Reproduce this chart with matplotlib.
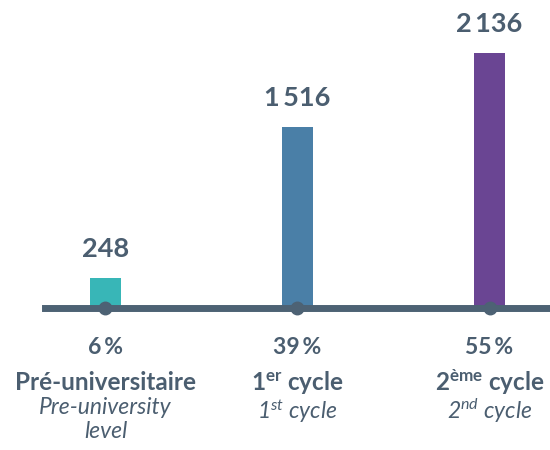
import numpy as np
import matplotlib.pyplot as plt
import matplotlib.transforms as mtransforms

plt.rcParams['font.family'] = ['Lato', 'DejaVu Sans']
plt.rcParams['mathtext.fontset'] = 'custom'
plt.rcParams['mathtext.rm'] = 'Lato'
plt.rcParams['mathtext.bf'] = 'Lato:bold'
plt.rcParams['mathtext.it'] = 'Lato:italic'

# Data
values = [248, 1516, 2136]
fr_labels = ["Pré-universitaire", r"1$^{\mathbf{er}}$ cycle", r"2$^{\mathbf{ème}}$ cycle"]
en_labels = ["Pre-university\nlevel", r"1$^{\mathit{st}}$ cycle", r"2$^{\mathit{nd}}$ cycle"]
colors = ["#38b6b7", "#4a7fa7", "#6a4593"]

text_col = "#4b5e70"
line_col = "#4d6274"

total = sum(values)
pcts = [round(v / total * 100) for v in values]

fig = plt.figure(figsize=(5.5, 4.5), dpi=100)
ax = fig.add_axes([0, 0, 1, 1])
ax.set_xlim(-0.549, 2.315)
ax.set_ylim(-1190, 2580)
ax.axis("off")

x = np.arange(len(values))
ax.bar(x, values, width=0.16, color=colors, zorder=2)

# baseline with dots
ax.axhline(0, xmin=0.082, xmax=1, color=line_col, linewidth=5, zorder=3)
ax.plot(x, [0] * len(x), "o", color=line_col, markersize=9, zorder=4)

# value labels
for xi, v in zip(x, values):
    ax.annotate(f"{v:,}".replace(",", "\u2009"), (xi, v), xytext=(0, 21),
                textcoords="offset points", ha="center", va="center",
                fontsize=19.5, fontweight="bold", color=text_col)

trans = mtransforms.blended_transform_factory(ax.transData, ax.transAxes)
for xi, p, fr, en in zip(x, pcts, fr_labels, en_labels):
    ax.text(xi, 1 - 348 / 450, f"{p}\u2009%", transform=trans, ha="center", va="center",
            fontsize=16.5, fontweight="bold", color=text_col)
    ax.text(xi, 1 - 382 / 450, fr, transform=trans, ha="center", va="center",
            fontsize=17.5, fontweight="bold", color=text_col)
    ax.text(xi, 1 - 397 / 450, en, transform=trans, ha="center", va="top",
            fontsize=16.5, fontstyle="italic", color=text_col, linespacing=1.15)

fig.savefig("out.png", dpi=100)
